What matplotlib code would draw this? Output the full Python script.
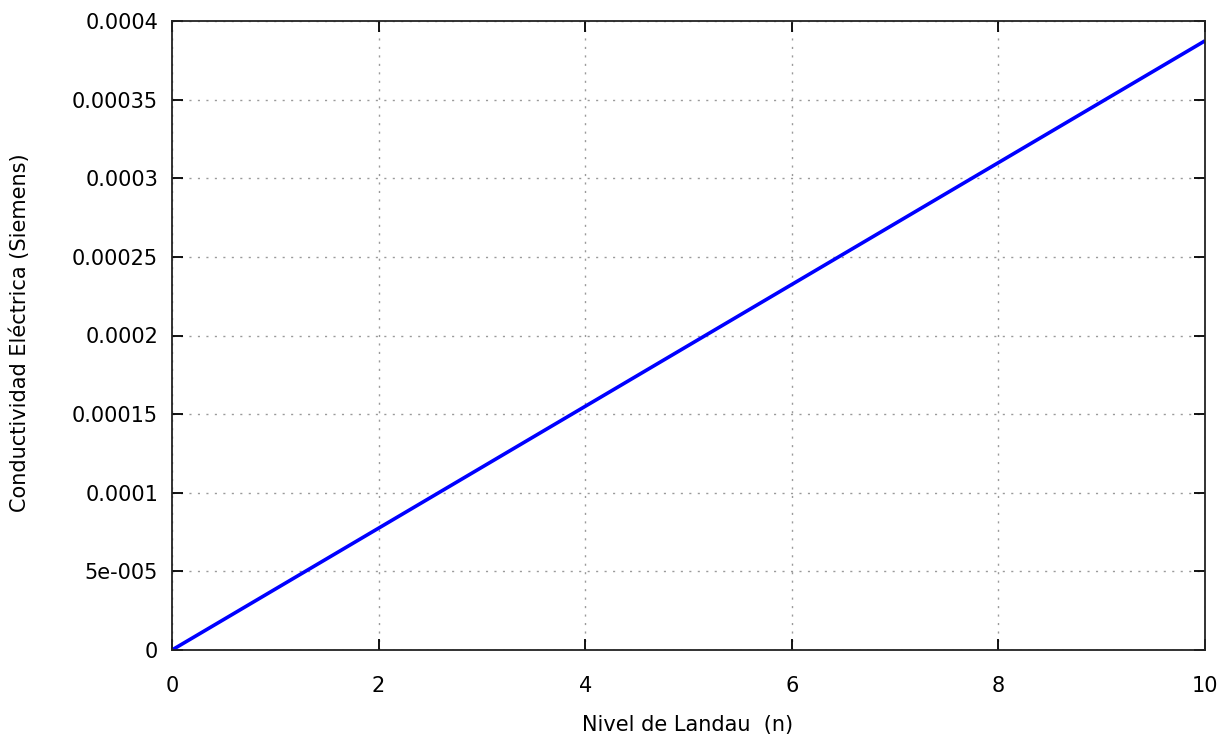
import matplotlib
matplotlib.use("Agg")
import matplotlib.pyplot as plt

# Data
landau_n = [0, 1, 2, 3, 4, 5, 6, 7, 8, 9, 10]
conductivity = [0.0, 3.874e-05, 7.748e-05, 1.1622e-04, 1.5496e-04, 1.937e-04,
                2.3244e-04, 2.7118e-04, 3.0992e-04, 3.4866e-04, 3.874e-04]
x_ticks = [0, 2, 4, 6, 8, 10]
y_ticks = [0, 5e-05, 1e-04, 1.5e-04, 2e-04, 2.5e-04, 3e-04, 3.5e-04, 4e-04]
y_tick_labels = ["0", "5e-005", "0.0001", "0.00015", "0.0002", "0.00025",
                 "0.0003", "0.00035", "0.0004"]

plt.rcParams['font.family'] = ['DejaVu Sans']
W, H = 1223, 742
fig = plt.figure(figsize=(W / 100, H / 100), dpi=100)
ax = fig.add_axes([172 / W, 1 - 650 / H, (1205 - 172) / W, (650 - 21) / H])

ax.plot(landau_n, conductivity, color='#0000ff', lw=2.6, solid_capstyle='butt')
ax.set_xlim(0, 10)
ax.set_ylim(0, 0.0004)
ax.set_xticks(x_ticks)
ax.set_xticklabels([str(v) for v in x_ticks])
ax.set_yticks(y_ticks)
ax.set_yticklabels(y_tick_labels)

ax.grid(True, color='#9a9a9a', linestyle=(0, (1.5, 4.6)), linewidth=1.0)
ax.tick_params(direction='in', length=8, width=1.3, top=True, right=True,
               labelsize=15, colors='black')
ax.tick_params(axis='x', pad=19)
ax.tick_params(axis='y', pad=10)
for s in ax.spines.values():
    s.set_linewidth(1.3)
    s.set_color('#222222')

fig.text(688 / W, 1 - 725 / H, "Nivel de Landau  (n)", fontsize=15,
         ha='center', va='center')
fig.text(20 / W, 1 - 333 / H, "Conductividad Eléctrica (Siemens)", fontsize=15,
         ha='center', va='center', rotation=90)

fig.savefig("out.png", dpi=100)
